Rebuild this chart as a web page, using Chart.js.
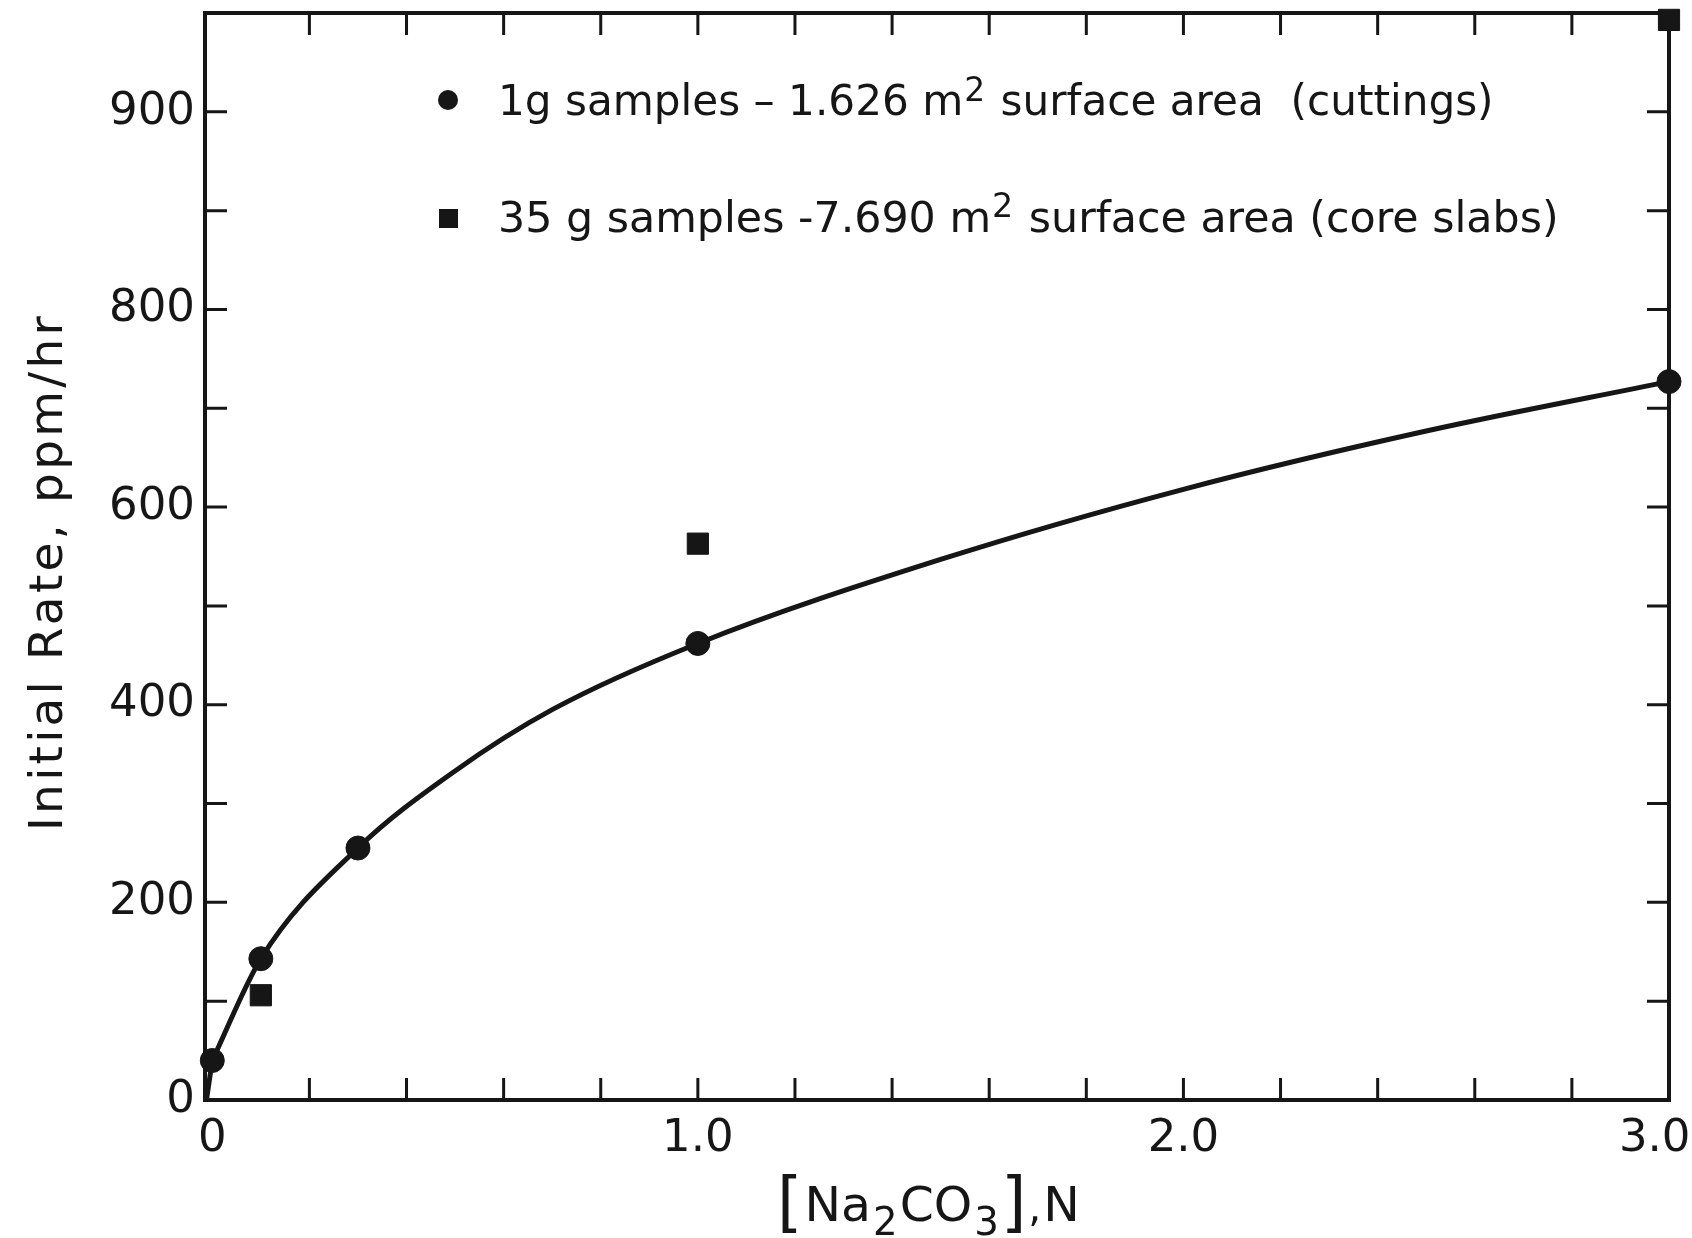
<!DOCTYPE html>
<html>
<head>
<meta charset="utf-8">
<title>Initial rate vs Na2CO3</title>
<script src="https://cdn.jsdelivr.net/npm/chart.js@4.4.1/dist/chart.umd.min.js"></script>
<style>
  html, body { margin: 0; padding: 0; background: #fff; }
</style>
</head>
<body>
<canvas id="chart" width="1692" height="1238"></canvas>
<script>
// values
const cuttingsX = [0, 0.1, 0.3, 1.0, 3.0]
const cuttingsY = [40, 143, 255, 462, 727]
const slabsX = [0.1, 1.0, 3.0]
const slabsY = [106, 563, 1093]
// the hand drawn curve through the cuttings points
const curveX = [0, 0.1, 0.3, 0.5, 0.7, 1.0, 1.5, 2.0, 2.5, 3.0]
const curveY = [40, 143, 255, 333, 395, 462, 547, 618, 677, 727]
// short straight stroke from the origin up to the first point
const leadX = [-0.012, 0]
const leadY = [0, 40]

const xTicks = [0, 0.2, 0.4, 0.6, 0.8, 1.0, 1.2, 1.4, 1.6, 1.8, 2.0, 2.2, 2.4, 2.6, 2.8, 3.0]
const xTickLabels = ["0", "", "", "", "", "1.0", "", "", "", "", "2.0", "", "", "", "", "3.0  "]
const yTicks = [0, 100, 200, 300, 400, 500, 600, 700, 800, 900, 1000]
// the original figure prints "900" at the top tick
const yTickLabels = ["0", "", "200", "", "400", "", "600", "", "800", "", "900"]

const seriesLabels = [
  "1g samples – 1.626 m² surface area  (cuttings)",
  "35 g samples -7.690 m² surface area (core slabs)"
]
const yTitle = "Initial Rate, ppm/hr"

const ink = "#161616"
const fontFamily = "'DejaVu Sans', 'Open Sans', sans-serif"
const tickLen = 22

const toPoints = (xs, ys) => xs.map((x, i) => ({x: x, y: ys[i]}))

// box + inward ticks on all four sides
const framePlugin = {
  id: "frame",
  beforeDatasetsDraw(chart) {
    const {ctx, chartArea: a, scales} = chart
    ctx.save()
    ctx.strokeStyle = ink
    ctx.lineWidth = 4
    ctx.strokeRect(a.left, a.top, a.right - a.left, a.bottom - a.top)
    ctx.lineWidth = 3
    ctx.beginPath()
    for (const v of xTicks) {
      if (v <= 0 || v >= 3) continue
      const px = scales.x.getPixelForValue(v)
      ctx.moveTo(px, a.bottom); ctx.lineTo(px, a.bottom - tickLen)
      ctx.moveTo(px, a.top); ctx.lineTo(px, a.top + tickLen)
    }
    for (const v of yTicks) {
      if (v <= 0) continue
      const py = scales.y.getPixelForValue(v)
      ctx.moveTo(a.left, py); ctx.lineTo(a.left + tickLen, py)
      ctx.moveTo(a.right, py); ctx.lineTo(a.right - tickLen, py)
    }
    ctx.stroke()
    ctx.restore()
  }
}

// label with a raised "2" like the hand lettering; returns the width
function drawWithSup(ctx, text, x, y, size, draw) {
  const x0 = x
  const parts = text.split("²")
  parts.forEach((p, i) => {
    ctx.font = `${size}px ${fontFamily}`
    if (draw) ctx.fillText(p, x, y)
    x += ctx.measureText(p).width
    if (i < parts.length - 1) {
      ctx.font = `${size * 0.78}px ${fontFamily}`
      if (draw) ctx.fillText("2", x + 1, y - size * 0.34)
      x += ctx.measureText("2").width + 3
    }
  })
  return x - x0
}

function fittedLabel(ctx, text, x, y, width) {
  const w = drawWithSup(ctx, text, x, y, 40, false)
  drawWithSup(ctx, text, x, y, 40 * width / w, true)
}

const legendPlugin = {
  id: "insideLegend",
  afterDraw(chart) {
    const ctx = chart.ctx
    ctx.save()
    ctx.fillStyle = ink
    ctx.textBaseline = "alphabetic"
    ctx.beginPath()
    ctx.arc(448, 100, 10, 0, Math.PI * 2)
    ctx.fill()
    fittedLabel(ctx, seriesLabels[0], 498, 115, 996)
    ctx.fillRect(439, 209, 19, 19)
    fittedLabel(ctx, seriesLabels[1], 498, 232, 1061)
    ctx.restore()
  }
}

// axis titles drawn by hand: the x one needs real subscripts
const xTitleParts = [
  {t: "[", size: 64, dy: 3},
  {t: "Na", size: 48, dy: 0},
  {t: "2", size: 38, dy: 14},
  {t: "CO", size: 48, dy: 0},
  {t: "3", size: 38, dy: 14},
  {t: "]", size: 64, dy: 3},
  {t: ",", size: 40, dy: 0},
  {t: "N", size: 48, dy: 0}
]
const titlesPlugin = {
  id: "titles",
  afterDraw(chart) {
    const ctx = chart.ctx
    ctx.save()
    ctx.fillStyle = ink
    ctx.textBaseline = "alphabetic"
    // fit [Na2CO3],N into the width it takes in the figure
    let total = 0
    for (const p of xTitleParts) {
      ctx.font = `${p.size}px ${fontFamily}`
      total += ctx.measureText(p.t).width + 2
    }
    const k = 305 / total
    let x = 777
    for (const p of xTitleParts) {
      ctx.font = `${p.size * k}px ${fontFamily}`
      ctx.fillText(p.t, x, 1221 + p.dy)
      x += ctx.measureText(p.t).width + 2 * k
    }
    // y title, widely spaced lettering
    ctx.translate(50, 572)
    ctx.rotate(-Math.PI / 2)
    ctx.textAlign = "center"
    ctx.textBaseline = "middle"
    ctx.font = `47px ${fontFamily}`
    const w = ctx.measureText(yTitle).width
    ctx.letterSpacing = Math.max(0, (518 - w) / yTitle.length) + "px"
    ctx.fillText(yTitle, 0, 0)
    ctx.restore()
  }
}

const noPad = (scale) => {
  scale.paddingLeft = 0
  scale.paddingRight = 0
  scale.paddingTop = 0
  scale.paddingBottom = 0
}

const myChart = new Chart(document.querySelector("#chart"), {
  type: "scatter",
  plugins: [framePlugin, legendPlugin, titlesPlugin],
  data: {
    datasets: [
      {
        type: "line",
        label: "lead",
        data: toPoints(leadX, leadY),
        borderColor: ink,
        borderWidth: 5,
        pointRadius: 0,
        fill: false,
        clip: false
      },
      {
        type: "line",
        label: "curve",
        data: toPoints(curveX, curveY),
        borderColor: ink,
        borderWidth: 5,
        pointRadius: 0,
        cubicInterpolationMode: "monotone",
        fill: false,
        clip: false
      },
      {
        label: seriesLabels[0],
        data: toPoints(cuttingsX, cuttingsY),
        pointStyle: "circle",
        pointRadius: 12,
        backgroundColor: ink,
        borderColor: ink,
        clip: false
      },
      {
        label: seriesLabels[1],
        data: toPoints(slabsX, slabsY),
        pointStyle: "rect",
        pointRadius: 15,
        backgroundColor: ink,
        borderColor: ink,
        clip: false
      }
    ]
  },
  options: {
    responsive: false,
    animation: false,
    layout: {
      autoPadding: false,
      padding: {top: 13, right: 23, left: 0, bottom: 0}
    },
    plugins: {
      legend: {display: false},
      tooltip: {enabled: false}
    },
    scales: {
      x: {
        type: "linear",
        min: -0.015,
        max: 3.0,
        grid: {display: false},
        border: {display: false},
        afterBuildTicks: (scale) => { scale.ticks = xTicks.map(v => ({value: v})) },
        afterFit: (scale) => { scale.height = 138; noPad(scale) },
        ticks: {
          autoSkip: false,
          maxRotation: 0,
          padding: 4,
          color: ink,
          font: {family: fontFamily, size: 45},
          callback: (value, index) => xTickLabels[index]
        }
      },
      y: {
        type: "linear",
        min: 0,
        max: 1100,
        grid: {display: false},
        border: {display: false},
        afterBuildTicks: (scale) => { scale.ticks = yTicks.map(v => ({value: v})) },
        afterFit: (scale) => { scale.width = 205; noPad(scale) },
        ticks: {
          autoSkip: false,
          padding: 2,
          color: ink,
          font: {family: fontFamily, size: 45},
          callback: (value, index) => yTickLabels[index]
        }
      }
    }
  }
})
</script>
</body>
</html>
